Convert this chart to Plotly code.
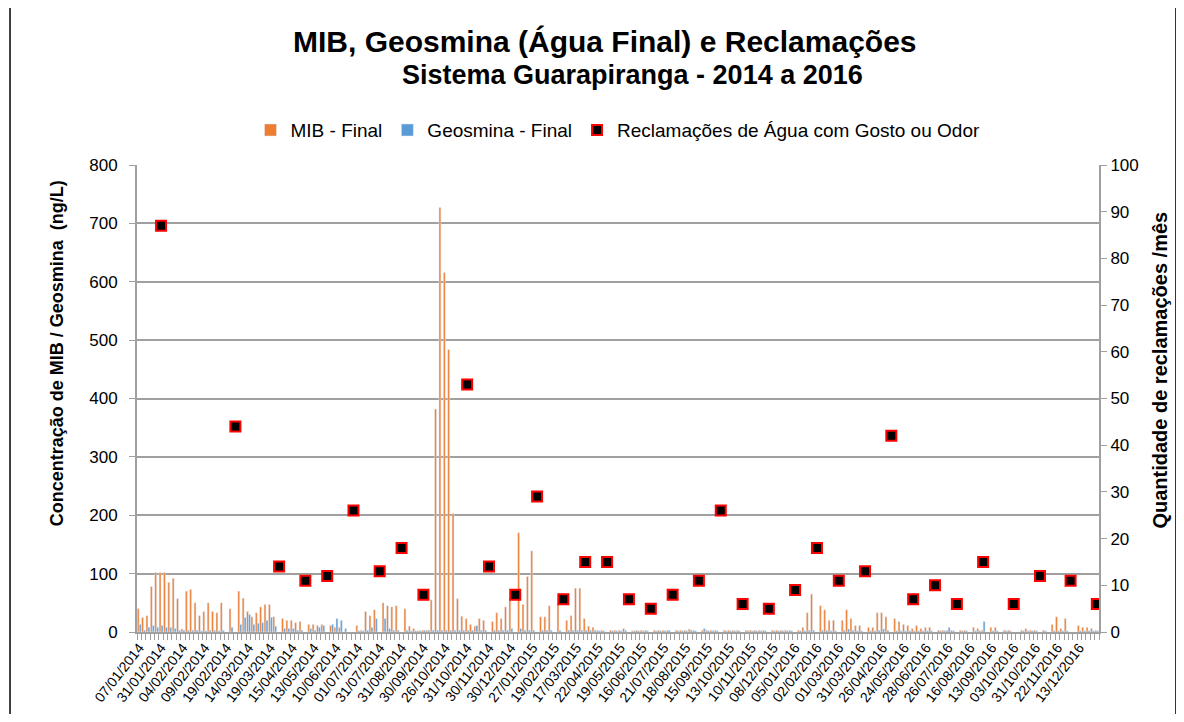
import plotly.graph_objects as go

# sample dates shown on the axis (every 5th sample)
date_labels = [
    "07/01/2014", "31/01/2014", "04/02/2014", "09/02/2014", "19/02/2014", "14/03/2014",
    "19/03/2014", "15/04/2014", "13/05/2014", "10/06/2014", "01/07/2014", "31/07/2014",
    "31/08/2014", "30/09/2014", "26/10/2014", "31/10/2014", "30/11/2014", "30/12/2014",
    "27/01/2015", "19/02/2015", "17/03/2015", "22/04/2015", "19/05/2015", "16/06/2015",
    "21/07/2015", "18/08/2015", "15/09/2015", "13/10/2015", "10/11/2015", "08/12/2015",
    "05/01/2016", "02/02/2016", "01/03/2016", "31/03/2016", "26/04/2016", "24/05/2016",
    "28/06/2016", "26/07/2016", "16/08/2016", "13/09/2016", "03/10/2016", "31/10/2016",
    "22/11/2016", "13/12/2016",
]

N = None
# MIB - Final (ng/L), one value per sample
mib = [
    40, 25, 28, 78, 102, 102, 102, 85, 92, 57, 5, 70, 73, 50, 28, 35, 50, 35, 33, 50,
    N, 40, N, 70, 58, 35, 26, 33, 43, 47, 47, 26, N, 23, 20, 20, 16, 18, N, 13,
    13, 11, 13, N, 11, 8, 8, N, N, N, 11, 3, 35, 28, 38, N, 50, 45, 43, 45,
    N, 40, 10, 6, 2, 3, 3, 55, 382, 727, 616, 484, 203, 57, 27, 23, 13, 10, 23, 20,
    N, 18, 33, 23, 43, 58, N, 170, 47, 95, 139, N, 26, 26, 45, N, 50, N, 20, 28,
    75, 75, 23, 10, 8, 3, 3, N, 3, 3, 3, 6, N, 2, 3, 3, 3, N, 3, 3,
    3, 3, N, 3, 3, 3, 5, 3, N, 3, 3, 3, 3, N, 3, 3, 3, 3, N, 3,
    3, 3, 3, 3, N, 3, 3, 3, 3, 3, N, 3, 8, 33, 65, N, 45, 38, 20, 20,
    N, 20, 38, 23, 11, 11, N, 8, 8, 33, 33, 26, N, 23, 18, 13, 11, 6, 11, 6,
    8, 8, N, 3, 3, 3, 3, N, 3, 3, N, 8, 6, 3, N, 8, 8, N, 3, 3,
    N, N, 3, 6, 3, 3, N, 3, N, 13, 26, 6, 23, N, N, 11, 8, 8, 6, 3,
]
# Geosmina - Final (ng/L)
geosmina = [
    13, 3, 8, 11, 8, 11, 8, 8, 6, 3, 3, 3, 3, 3, 2, 2, 3, 3, 2, 3,
    N, 8, N, 13, 25, 30, 13, 15, 16, 20, 25, 10, N, 6, 6, 6, 3, 3, N, 6,
    3, 8, 11, N, 13, 23, 20, 6, N, N, 2, 2, 3, 8, 23, N, 23, 6, 3, 3,
    N, 3, 2, 2, 2, 3, 3, 3, 3, 3, 3, 3, 3, 3, 3, 3, 3, 11, 3, 3,
    N, 3, 3, 3, 3, 6, N, 6, 3, 3, 3, N, 3, 3, 3, N, 3, N, 3, 3,
    3, 3, 3, 3, 3, 2, 2, N, 2, 2, 2, 3, N, 2, 2, 2, 2, N, 2, 2,
    2, 3, N, 2, 2, 2, 3, 2, N, 6, 2, 2, 2, N, 2, 2, 2, 2, N, 2,
    2, 2, 2, 2, N, 2, 2, 2, 2, 2, N, 2, 2, 3, 3, N, 3, 3, 2, 2,
    N, 3, 5, 3, 2, 2, N, 2, 2, 3, 5, 3, N, 2, 2, 2, 2, 2, 2, 2,
    2, 2, N, 2, 2, 8, 2, N, 2, 2, N, 2, 2, 18, N, 2, 2, N, 2, 2,
    N, N, 2, 2, 2, 2, N, 2, N, 2, 2, 2, 2, N, N, 2, 2, 2, 2, 2,
]
# monthly complaints (Jan/2014 - Dec/2016) and the sample row where each is plotted
complaint_row = [5, 22, 32, 38, 43, 49, 55, 60, 65, 75, 80, 86, 91, 97, 102, 107, 112, 117,
                 122, 128, 133, 138, 144, 150, 155, 160, 166, 172, 177, 182, 187, 193, 200, 206, 213, 219]
complaints = [87, 44, 14, 11, 12, 26, 13, 18, 8, 53, 14, 8, 29, 7, 15, 15, 7, 5,
              8, 11, 26, 6, 5, 9, 18, 11, 13, 42, 7, 10, 6, 15, 6, 12, 11, 6]

samples = list(range(len(mib)))
font = "Liberation Sans, Arial, sans-serif"
grey = "#a0a0a0"

fig = go.Figure()
fig.add_trace(go.Bar(x=samples, y=mib, name="MIB - Final", marker_color="#ED7D31"))
fig.add_trace(go.Bar(x=samples, y=geosmina, name="Geosmina - Final", marker_color="#5B9BD5"))
fig.add_trace(
    go.Scatter(
        x=complaint_row,
        y=complaints,
        yaxis="y2",
        mode="markers",
        name="Reclamações de Água com Gosto ou Odor",
        marker=dict(symbol="square", size=10, color="black", line=dict(color="#FF0000", width=2)),
    )
)

# page body has an 8px margin, so the figure is smaller than the window
fig.update_layout(
    width=1176,
    height=706,
    paper_bgcolor="white",
    plot_bgcolor="white",
    font=dict(family=font, color="black"),
    margin=dict(l=129, r=85, t=157, b=82, autoexpand=False),
    barmode="group",
    bargap=0.1,
    bargroupgap=0.05,
    legend=dict(
        orientation="h", x=0.5, xanchor="center", y=0.827, yref="container", yanchor="middle",
        font=dict(size=19), itemwidth=30, traceorder="normal",
    ),
    xaxis=dict(
        range=[-0.5, len(mib) - 0.5],
        tickmode="array",
        tickvals=samples[::5],
        ticktext=date_labels,
        tickangle=-52,
        tickfont=dict(size=14),
        ticks="",
        automargin=False,
        showline=True, linecolor=grey, linewidth=2,
        showgrid=False, zeroline=False,
        minor=dict(ticks="outside", ticklen=6, tickwidth=1, tickcolor=grey,
                   tickmode="linear", tick0=-0.5, dtick=1, showgrid=False),
    ),
    yaxis=dict(
        range=[0, 800], dtick=100,
        tickfont=dict(size=17),
        ticklabelstandoff=8,
        automargin=False,
        showline=True, linecolor=grey, linewidth=2,
        showgrid=True, gridcolor=grey, gridwidth=2,
        ticks="outside", ticklen=6, tickcolor=grey,
        zeroline=False,
    ),
    yaxis2=dict(
        range=[0, 100], dtick=10, overlaying="y", side="right",
        tickfont=dict(size=17),
        automargin=False,
        showline=True, linecolor=grey, linewidth=2,
        showgrid=False, zeroline=False,
        ticks="outside", ticklen=6, tickcolor=grey,
    ),
    annotations=[
        dict(text="<b>MIB, Geosmina (Água Final) e Reclamações</b>",
             xref="paper", yref="paper", x=0.4865, y=1.2634, xanchor="center", yanchor="middle",
             showarrow=False, font=dict(size=30)),
        dict(text="<b>Sistema Guarapiranga - 2014 a 2016</b>",
             xref="paper", yref="paper", x=0.5146, y=1.1927, xanchor="center", yanchor="middle",
             showarrow=False, font=dict(size=27)),
        dict(text="<b>Concentração de MIB / Geosmina  (ng/L)</b>", textangle=-90,
             xref="paper", yref="paper", x=-0.083, y=0.597, xanchor="center", yanchor="middle",
             showarrow=False, font=dict(size=18)),
        dict(text="<b>Quantidade de reclamações /mês</b>", textangle=-90,
             xref="paper", yref="paper", x=1.063, y=0.561, xanchor="center", yanchor="middle",
             showarrow=False, font=dict(size=20)),
    ],
    shapes=[
        dict(type="line", xref="paper", yref="paper", x0=-0.132, x1=-0.132, y0=-0.3, y1=1.349,
             line=dict(color="black", width=1.5), layer="below"),
        dict(type="line", xref="paper", yref="paper", x0=1.08, x1=1.08, y0=-0.3, y1=1.349,
             line=dict(color="black", width=1.5), layer="below"),
    ],
)

fig.write_html("out.html")
